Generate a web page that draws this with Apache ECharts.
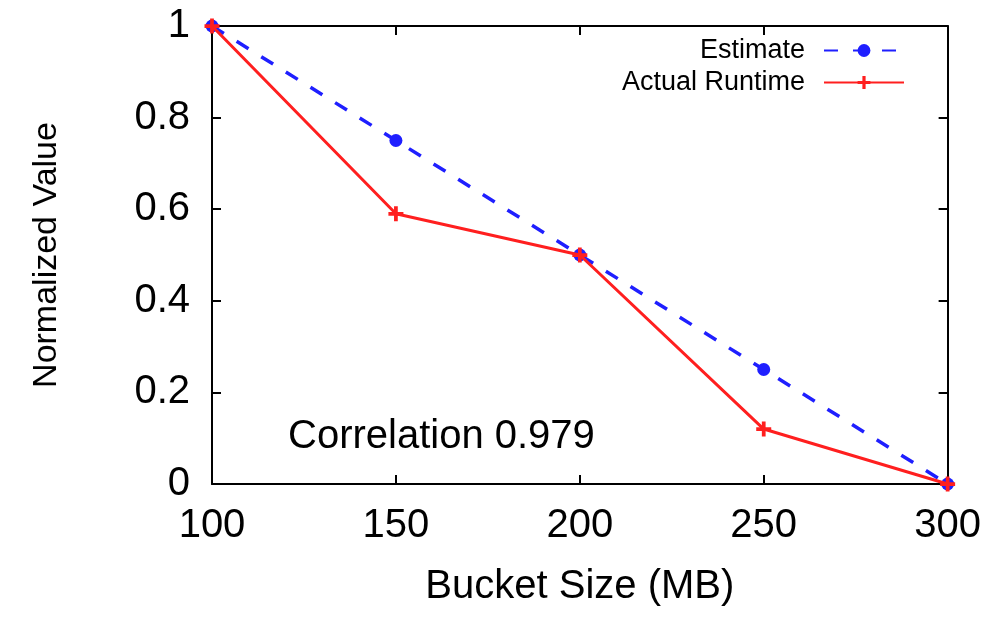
<!DOCTYPE html>
<html>
<head>
<meta charset="utf-8">
<script src="https://cdn.jsdelivr.net/npm/echarts@6/dist/echarts.min.js"></script>
<style>html,body{margin:0;padding:0;background:#fff}#c{width:984px;height:618px}</style>
</head>
<body>
<div id="c"></div>
<script>
const bucketSizes = [100, 150, 200, 250, 300];
const estimate = [1, 0.75, 0.5, 0.25, 0];
const actualRuntime = [1, 0.59, 0.5, 0.12, 0];
const seriesNames = ['Estimate', 'Actual Runtime'];
const xTitle = 'Bucket Size (MB)';
const yTitle = 'Normalized Value';
const note = 'Correlation 0.979';

const FONT = '"Liberation Sans", Arial, Helvetica, sans-serif';
const plus = 'path://M-1.5,-6 h3 v4.5 h4.5 v3 h-4.5 v4.5 h-3 v-4.5 h-4.5 v-3 h4.5 z';
const chart = echarts.init(document.getElementById('c'), null, {renderer: 'canvas'});

const axisCommon = {
  axisLine: {show: true, onZero: false, lineStyle: {color: '#000', width: 2}},
  axisTick: {show: true, inside: true, length: 9, lineStyle: {color: '#000', width: 2}},
  splitLine: {show: false}
};

chart.setOption({
  animation: false,
  grid: {left: 212, right: 36, top: 26, bottom: 134, containLabel: false},
  legend: {
    data: seriesNames,
    right: 74,
    top: 32,
    orient: 'vertical',
    align: 'right',
    itemWidth: 80,
    itemHeight: 16,
    itemGap: 5,
    textStyle: {fontFamily: FONT, fontSize: 27, color: '#000', padding: [0, 14, 0, 0]}
  },
  xAxis: [
    Object.assign({
      type: 'value', min: 100, max: 300, interval: 50, position: 'bottom',
      axisLabel: {fontFamily: FONT, fontSize: 40, color: '#000', margin: 22},
      name: xTitle, nameLocation: 'middle', nameGap: 83,
      nameTextStyle: {fontFamily: FONT, fontSize: 40, color: '#000'}
    }, axisCommon),
    Object.assign({
      type: 'value', min: 100, max: 300, interval: 50, position: 'top',
      axisLabel: {show: false}
    }, axisCommon)
  ],
  yAxis: [
    Object.assign({
      type: 'value', min: 0, max: 1, interval: 0.2, position: 'left',
      axisLabel: {fontFamily: FONT, fontSize: 40, color: '#000', margin: 22},
      name: yTitle, nameLocation: 'middle', nameGap: 148,
      nameTextStyle: {fontFamily: FONT, fontSize: 34, color: '#000'}
    }, axisCommon),
    Object.assign({
      type: 'value', min: 0, max: 1, interval: 0.2, position: 'right',
      axisLabel: {show: false}
    }, axisCommon)
  ],
  graphic: [{
    type: 'text', left: 288, top: 417,
    style: {text: note, font: '40px ' + FONT, fill: '#000'}
  }],
  series: [
    {
      name: seriesNames[0], type: 'line',
      data: bucketSizes.map((x, i) => [x, estimate[i]]),
      symbol: 'circle', symbolSize: 13,
      lineStyle: {color: '#1f1fff', width: 3.5, type: [14, 15]},
      itemStyle: {color: '#1f1fff'},
      z: 2
    },
    {
      name: seriesNames[1], type: 'line',
      data: bucketSizes.map((x, i) => [x, actualRuntime[i]]),
      symbol: plus, symbolSize: 15,
      lineStyle: {color: '#ff1f1f', width: 3},
      itemStyle: {color: '#ff1f1f'},
      z: 3
    }
  ]
});
</script>
</body>
</html>
